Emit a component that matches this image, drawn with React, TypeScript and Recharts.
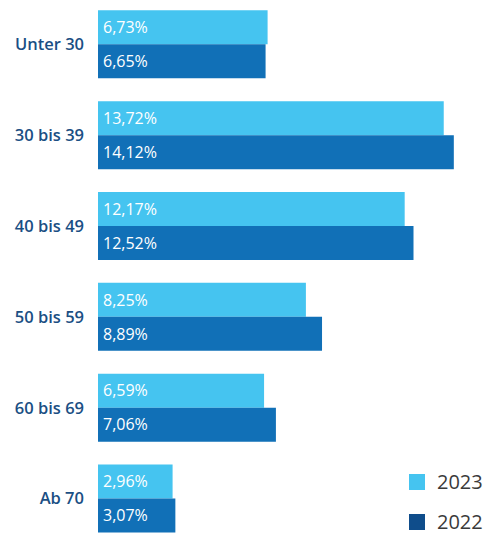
import React from "react";
import { BarChart, Bar, XAxis, YAxis, LabelList } from "recharts";

const categories = ["Unter 30", "30 bis 39", "40 bis 49", "50 bis 59", "60 bis 69", "Ab 70"];
const values2023 = [6.73, 13.72, 12.17, 8.25, 6.59, 2.96];
const values2022 = [6.65, 14.12, 12.52, 8.89, 7.06, 3.07];
const seriesNames = ["2023", "2022"];

const data = categories.map((c, i) => ({
  name: c,
  v2023: values2023[i],
  v2022: values2022[i],
}));

const fmt = (v: number) => v.toFixed(2).replace(".", ",") + "%";

const legendItems = [
  { name: seriesNames[0], color: "#45c4f0" },
  { name: seriesNames[1], color: "#0f4d8b" },
];

export default function App() {
  return (
    <div style={{ position: "absolute", left: 0, top: 0, width: 488, height: 535, overflow: "hidden" }}>
      <div style={{ position: "absolute", left: 0, top: -1 }}>
        <BarChart
          width={488}
          height={546}
          data={data}
          layout="vertical"
          margin={{ top: 0, right: 12, bottom: 1, left: 0 }}
          barCategoryGap="12.5%"
          barGap={0}
        >
          <XAxis type="number" domain={[0, 15]} hide />
          <YAxis
            type="category"
            dataKey="name"
            width={98}
            axisLine={false}
            tickLine={false}
            tickSize={0}
            tickMargin={14}
            tick={{ fill: "#1b4f84", fontSize: 16.5, fontWeight: 600, fontFamily: "'Open Sans', sans-serif" }}
          />
          <Bar dataKey="v2023" name={seriesNames[0]} fill="#45c4f0" isAnimationActive={false}>
            <LabelList
              dataKey="v2023"
              position="insideLeft"
              offset={5}
              formatter={(v: any) => fmt(Number(v))}
              style={{ fill: "#ffffff", fontSize: 16, fontFamily: "'Open Sans', sans-serif" }}
            />
          </Bar>
          <Bar dataKey="v2022" name={seriesNames[1]} fill="#1170b7" isAnimationActive={false}>
            <LabelList
              dataKey="v2022"
              position="insideLeft"
              offset={5}
              formatter={(v: any) => fmt(Number(v))}
              style={{ fill: "#ffffff", fontSize: 16, fontFamily: "'Open Sans', sans-serif" }}
            />
          </Bar>
        </BarChart>
      </div>
      <div style={{ position: "absolute", left: 409, top: 462, fontFamily: "'Open Sans', sans-serif" }}>
        {legendItems.map((it) => (
          <div key={it.name} style={{ display: "flex", alignItems: "center", height: 40 }}>
            <div style={{ width: 16, height: 16, background: it.color, marginRight: 12 }} />
            <span style={{ fontSize: 20, color: "#3a3a3a", lineHeight: "22px" }}>{it.name}</span>
          </div>
        ))}
      </div>
    </div>
  );
}
